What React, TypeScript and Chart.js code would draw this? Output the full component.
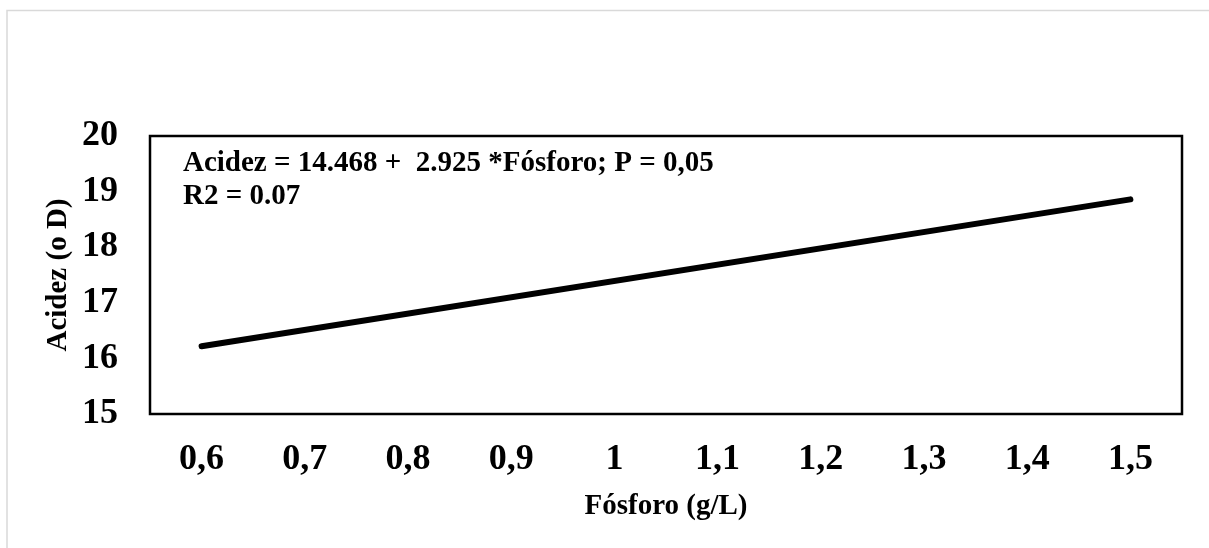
import React, { useEffect, useRef } from "react";
import { Chart, registerables } from "chart.js";

Chart.register(...registerables);

const xTicks = [0.6, 0.7, 0.8, 0.9, 1.0, 1.1, 1.2, 1.3, 1.4, 1.5];
const xTickLabels = ["0,6", "0,7", "0,8", "0,9", "1", "1,1", "1,2", "1,3", "1,4", "1,5"];
const lineX = [0.6, 1.5];
const lineY = [16.22, 18.86];
const yMin = 15;
const yMax = 20;
const xTitle = "Fósforo (g/L)";
const yTitle = "Acidez (o D)";
const annotationLines = ["Acidez = 14.468 +  2.925 *Fósforo; P = 0,05", "R2 = 0.07"];

const FONT = "'Liberation Serif', 'Times New Roman', serif";

const decorPlugin = {
  id: "decor",
  beforeDraw(chart: any) {
    const { ctx, width, height } = chart;
    ctx.save();
    ctx.fillStyle = "#ffffff";
    ctx.fillRect(0, 0, width, height);
    ctx.strokeStyle = "#d9d9d9";
    ctx.lineWidth = 1.5;
    ctx.beginPath();
    ctx.moveTo(7, height);
    ctx.lineTo(7, 10.5);
    ctx.lineTo(width, 10.5);
    ctx.stroke();
    ctx.restore();
  },
  afterDraw(chart: any) {
    const { ctx, chartArea } = chart;
    ctx.save();
    ctx.strokeStyle = "#000000";
    ctx.lineWidth = 2.5;
    ctx.strokeRect(chartArea.left, chartArea.top, chartArea.right - chartArea.left, chartArea.bottom - chartArea.top);
    ctx.fillStyle = "#000000";
    ctx.font = `bold 29px ${FONT}`;
    ctx.textBaseline = "middle";
    ctx.textAlign = "left";
    const x0 = chartArea.left + 33;
    const y0 = chartArea.top + 28;
    annotationLines.forEach((t, i) => ctx.fillText(t, x0, y0 + i * 33));
    ctx.restore();
  },
};

export default function App() {
  const ref = useRef<HTMLCanvasElement | null>(null);
  useEffect(() => {
    if (!ref.current) return;
    const chart = new Chart(ref.current, {
      type: "line",
      data: {
        datasets: [
          {
            data: lineX.map((x, i) => ({ x, y: lineY[i] })),
            borderColor: "#000000",
            borderWidth: 6,
            borderCapStyle: "round",
            pointRadius: 0,
            tension: 0,
          },
        ],
      },
      options: {
        responsive: false,
        animation: false,
        layout: { padding: { top: 136, right: 27, left: 0, bottom: 0 } },
        plugins: { legend: { display: false }, tooltip: { enabled: false } },
        scales: {
          x: {
            type: "linear",
            min: 0.55,
            max: 1.55,
            afterBuildTicks: (scale: any) => {
              scale.ticks = xTicks.map((v) => ({ value: v }));
            },
            afterFit: (scale: any) => {
              scale.height = 134;
            },
            grid: { display: false, drawTicks: false },
            border: { display: false },
            ticks: {
              autoSkip: false,
              maxRotation: 0,
              padding: 24,
              color: "#000000",
              font: { family: FONT, size: 36, weight: "bold" },
              callback: (_v: any, i: number) => xTickLabels[i],
            },
            title: {
              display: true,
              text: xTitle,
              color: "#000000",
              font: { family: FONT, size: 29, weight: "bold" },
              padding: { top: 0, bottom: 24 },
            },
          },
          y: {
            min: yMin,
            max: yMax,
            afterFit: (scale: any) => {
              scale.width = 150;
            },
            grid: { display: false, drawTicks: false },
            border: { display: false },
            ticks: {
              stepSize: 1,
              padding: 32,
              color: "#000000",
              font: { family: FONT, size: 36, weight: "bold" },
            },
            title: {
              display: true,
              text: yTitle,
              color: "#000000",
              font: { family: FONT, size: 29, weight: "bold" },
              padding: { top: 41, bottom: 0 },
            },
          },
        },
      },
      plugins: [decorPlugin],
    } as any);
    return () => chart.destroy();
  }, []);
  return (
    <div style={{ position: "fixed", left: 0, top: 0, width: 1209, height: 548 }}>
      <canvas ref={ref} width={1209} height={548} style={{ display: "block", width: 1209, height: 548 }} />
    </div>
  );
}
